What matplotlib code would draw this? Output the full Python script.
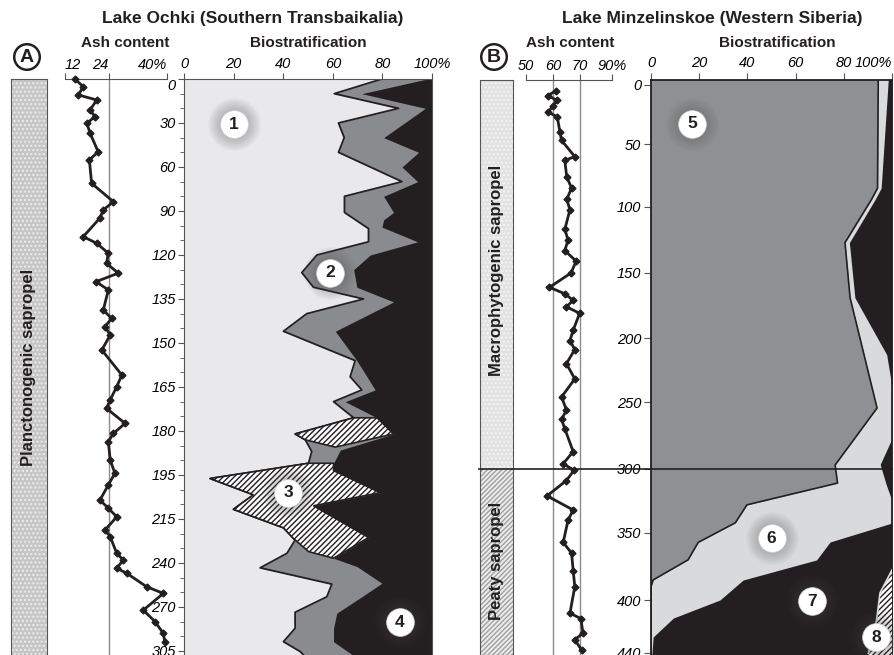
import numpy as np
import matplotlib.pyplot as plt
from matplotlib.lines import Line2D

plt.rcParams['font.family'] = ['Liberation Sans', 'DejaVu Sans']
plt.rcParams['hatch.linewidth'] = 1.0

# ---------------- Lake Ochki (A) ----------------
ochki_depth_ticks = [0, 30, 60, 90, 120, 135, 150, 165, 180, 195, 215, 240, 270, 305]
ochki_ash_ticks = [12, 24, 40]
ochki_ash_ref = [24]

ochki_ash_depth = [0, 5.2, 10.9, 14.3, 21.1, 25.7, 30.2, 37.0, 49.6, 55.2,
                   71.1, 83.7, 89.3, 94.8, 107.5, 112.0, 118.8, 122.8, 126.2, 129.1,
                   131.9, 138.8, 141.6, 144.4, 147.3, 152.4, 160.9, 164.9, 169.4, 172.3,
                   177.4, 180.8, 183.6, 189.9, 194.4, 199.5, 206.4, 210.1, 214.0, 221.3,
                   225.0, 234.5, 238.3, 243.6, 246.9, 256.2, 260.7, 272.5, 281.6, 291.0,
                   297.6]
ochki_ash = [14.7, 17.0, 15.7, 20.7, 18.9, 20.2, 18.0, 18.9, 21.1, 18.7,
             19.3, 25.3, 22.5, 21.6, 17.0, 20.7, 23.9, 23.4, 26.6, 20.5,
             23.9, 22.5, 24.8, 23.0, 24.4, 22.1, 27.6, 26.2, 24.4, 23.4,
             28.5, 25.3, 23.9, 24.4, 25.7, 23.9, 21.6, 23.9, 26.2, 23.0,
             24.4, 26.2, 28.0, 26.2, 28.9, 34.4, 39.0, 33.5, 36.7, 39.0,
             39.4]

# boundary between group 1 (light) and the rest
ochki_b1_depth = [0, 10, 20, 30, 40, 50, 70, 80, 91, 102, 111, 120, 126, 131, 135, 140, 146,
                  156, 161.5, 166, 170, 175.5, 181, 183, 187, 191, 196.6, 204, 210.6, 220,
                  227, 234.5, 243.3, 254.4, 263, 274.2, 286.9, 297.6, 305.4, 312]
ochki_b1_pct = [79.8, 60.6, 86.5, 62.3, 64.6, 62.3, 87.9, 64.7, 64.7, 74.4, 74.4, 53.6, 47.5,
                52.2, 72.4, 49.5, 40.1, 69.0, 67.0, 71.7, 60.3, 68.4, 44.8, 48.9, 51.5, 50.2,
                10.5, 28.0, 19.9, 40.1, 44.8, 41.5, 30.7, 59.6, 57.6, 44.8, 44.8, 40.1, 46.8, 50]
# boundary where group 4 (black) begins
ochki_b2_depth = [0, 10, 20, 40, 50, 60, 70, 80, 91, 96, 101, 111, 120, 125, 131, 136, 146,
                  156, 166, 170, 175.5, 181, 186.5, 191, 193.5, 203, 209, 225.5, 237.3,
                  242.4, 253.8, 263, 274.9, 286.9, 297.6, 306.8, 312]
ochki_b2_pct = [98.0, 71.7, 97.3, 80.5, 94.6, 87.9, 94.2, 80.5, 84.5, 80.5, 79.8, 94.2, 75.1,
                68.4, 69.7, 84.5, 61.0, 69.7, 77.1, 65.0, 77.8, 84.5, 63.0, 60.3, 60.3, 79.1,
                52.2, 74.4, 60.3, 69.7, 79.8, 71.7, 61.6, 60.3, 60.3, 67.0, 70]
# group 3 (hatched) blocks
ochki_h1_pct = [68.4, 77.8, 84.5, 61.0, 48.9, 44.8]
ochki_h1_depth = [175.5, 175.5, 181, 185.5, 183, 181]
ochki_h2_pct = [50.2, 60.3, 60.3, 79.1, 52.2, 74.4, 60.3, 50.2, 44.1, 40.1, 19.9, 28.0, 10.5]
ochki_h2_depth = [191, 191, 193.5, 203, 209, 225.5, 237.3, 233.5, 226, 220, 210.6, 204, 196.6]
ochki_groups = ['1', '2', '3', '4']
ochki_group_pct = [20, 59, 42, 87]
ochki_group_depth = [31, 126, 203, 282]

# ---------------- Lake Minzelinskoe (B) ----------------
minz_depth_ticks = [0, 50, 100, 150, 200, 250, 300, 350, 400, 440]
minz_tick_pos = [85, 144, 207, 273, 338, 402, 469, 533, 600, 653]
minz_ash_ticks = [50, 60, 70, 90]
minz_ash_ref = [60, 70]
minz_units = ['Macrophytogenic sapropel', 'Peaty sapropel']
minz_unit_top = [None, 300]
minz_unit_base = [300, None]

minz_ash_depth = [5, 9, 13, 18, 23, 27, 40, 47, 60, 63, 76, 85, 94, 102, 117, 125, 133, 141,
                  150, 161, 166, 171, 176, 181, 194, 202, 209, 220, 232, 246, 256, 263, 270,
                  287, 296, 301, 309, 321, 332, 340, 357, 365, 378, 390, 410, 414, 425, 430, 438]
minz_ash = [61.1, 58.0, 61.6, 59.9, 58.2, 61.6, 62.6, 63.2, 68.1, 64.4, 65.1, 66.9, 65.1, 66.3,
            64.4, 65.6, 64.4, 68.6, 66.7, 58.7, 64.4, 67.5, 65.0, 69.9, 67.5, 66.3, 68.1, 65.0,
            68.1, 63.2, 65.0, 63.2, 64.4, 67.5, 63.8, 67.8, 65.0, 57.8, 67.5, 65.6, 63.8, 66.9,
            67.5, 68.1, 66.3, 70.6, 71.9, 68.1, 71.2]

minz_b5_depth = [-6, 85, 94, 127, 169, 254.5, 297, 311, 328, 342, 357, 370, 385, 390, 450]
minz_b5_pct = [94.3, 94.0, 91.5, 80.5, 82.6, 93.8, 76.4, 77.4, 39.8, 35.0, 19.6, 15.4, 0.9, 0, 0]
minz_b6_depth = [-6, 85, 94, 127, 169, 213, 238.3]
minz_b6_pct = [98.5, 95.5, 93.0, 82.3, 84.6, 97.8, 100]
minz_sliver_pct = [100, 95.3, 97.8, 100]
minz_sliver_depth = [278.4, 297, 312.5, 324.2]
minz_b7_depth = [342.2, 356.7, 370.1, 385.1, 400, 413.6, 427.9, 450]
minz_b7_pct = [100, 74.3, 68.7, 38.2, 28.6, 9.3, 0.9, 0]
minz_h8_pct = [100, 95.0, 93.6, 90.2, 89.5, 100]
minz_h8_depth = [377.6, 394.8, 415.1, 440.2, 450, 450]
minz_groups = ['5', '6', '7', '8']
minz_group_pct = [17, 50, 67, 93.5]
minz_group_depth = [33, 354, 401, 428]

LIGHT = '#e9e9eb'
GREY = '#8a8b8e'
BLACK = '#231f20'
GREY5 = '#8f9093'
LIGHT6 = '#d9dadc'

W, H = 894, 655


def box(x0, x1, ytop, ybot=655):
    return [x0 / W, 1 - ybot / H, (x1 - x0) / W, (ybot - ytop) / H]


# depth axes of the original are not linear: the labels sit at fixed steps
a_d = np.r_[-60, ochki_depth_ticks, 410]
a_p = np.r_[-2, np.arange(len(ochki_depth_ticks)), 16]
fwd_a = lambda d: np.interp(d, a_d, a_p)
inv_a = lambda p: np.interp(p, a_p, a_d)
b_d = np.r_[-60, minz_depth_ticks, 520]
b_p = np.r_[minz_tick_pos[0] - 60 * 59 / 50, minz_tick_pos, 653 + 80 * 53 / 40]
fwd_b = lambda d: np.interp(d, b_d, b_p)
inv_b = lambda p: np.interp(p, b_p, b_d)
ash_v = [0, 50, 60, 70, 90, 200]
ash_p = [-5, 0, 1, 2, 3.19, 3.19 + 110 * 1.19 / 20]
fwd_ash = lambda v: np.interp(v, ash_v, ash_p)
inv_ash = lambda p: np.interp(p, ash_p, ash_v)

ylim_a = (inv_a((655 - 79) / 44), 0)
ylim_b = (inv_b(655), inv_b(80))

fig = plt.figure(figsize=(8.94, 6.55), dpi=100)


def badge(ax, x, y, s):
    # soft grey glow behind the white disc
    for ms in np.linspace(38, 21, 10):
        ax.plot(x, y, 'o', ms=ms, color='#555555', alpha=0.035, mec='none', zorder=6, clip_on=False)
    ax.plot(x, y, 'o', ms=20, mfc='white', mec='#cfcfcf', mew=0.5, zorder=7, clip_on=False)
    ax.text(x, y, s, ha='center', va='center', fontsize=12.5, fontweight='bold',
            color=BLACK, zorder=8)


def depth_axis(ax, fwd, inv, ylim):
    ax.set_yscale('function', functions=(fwd, inv))
    ax.set_ylim(*ylim)


def ash_axis(ax, ticks, labels, ref):
    ax.set_facecolor('none')
    for s in ['bottom', 'left', 'right']:
        ax.spines[s].set_visible(False)
    ax.spines['top'].set_color('#555555')
    ax.xaxis.tick_top()
    ax.set_xticks(ticks, labels, fontstyle='italic', fontsize=10.5)
    ax.tick_params(axis='x', direction='out', length=4, color='#555555', pad=1)
    ax.set_yticks([])
    ax.set_yticks([], minor=True)
    for r in ref:
        ax.axvline(r, color='#8c8c8c', lw=1, zorder=1)


def litho(ax, face, hatch, hcol, top, base):
    ax.fill_betweenx([top, base], 0, 1, facecolor=face, lw=0)
    ax.fill_betweenx([top, base], 0, 1, facecolor='none', edgecolor=hcol, hatch=hatch, lw=0)


# ---- A: lithology column
ax = fig.add_axes(box(11, 47, 79))
depth_axis(ax, fwd_a, inv_a, ylim_a)
ax.set_xlim(0, 1)
litho(ax, '#c6c6c6', '....', '#ededed', ylim_a[1], ylim_a[0])
ax.set_xticks([]); ax.set_yticks([]); ax.set_yticks([], minor=True)
for s in ax.spines.values():
    s.set_color('#555555')
ax.text(0.5, 0.5, 'Planctonogenic sapropel', rotation=90, ha='center', va='center',
        fontsize=12, fontweight='bold', color=BLACK, transform=ax.transAxes)

# ---- A: ash content
ax = fig.add_axes(box(65, 167, 79))
depth_axis(ax, fwd_a, inv_a, ylim_a)
ax.set_xlim(12, 40)
ash_axis(ax, ochki_ash_ticks, ['12', '24', '40%'], ochki_ash_ref)
ax.get_xticklabels()[0].set_ha('left')
ax.get_xticklabels()[1].set_ha('right')
ax.get_xticklabels()[2].set_ha('right')
ax.plot(ochki_ash, ochki_ash_depth, color=BLACK, lw=2, marker='D', ms=3.5, clip_on=False, zorder=3)

# ---- A: biostratification
ax = fig.add_axes(box(184, 432, 79))
depth_axis(ax, fwd_a, inv_a, ylim_a)
ax.set_xlim(0, 100)
ax.set_facecolor(LIGHT)
ax.fill_betweenx(ochki_b1_depth, ochki_b1_pct, 100, color=GREY, lw=0)
ax.fill_betweenx(ochki_b2_depth, ochki_b2_pct, 100, color=BLACK, lw=0)
ax.plot(ochki_b1_pct, ochki_b1_depth, color=BLACK, lw=1.3)
for hp, hd in [(ochki_h1_pct, ochki_h1_depth), (ochki_h2_pct, ochki_h2_depth)]:
    ax.fill(hp, hd, facecolor='white', edgecolor=BLACK, hatch='//////', lw=1.2, zorder=3)
for s, x, y in zip(ochki_groups, ochki_group_pct, ochki_group_depth):
    badge(ax, x, y, s)
ax.xaxis.tick_top()
ax.set_xticks([0, 20, 40, 60, 80, 100], ['0', '20', '40', '60', '80', '100%'],
              fontstyle='italic', fontsize=10.5)
ax.set_yticks(ochki_depth_ticks, [str(d) for d in ochki_depth_ticks],
              fontstyle='italic', fontsize=10.5)
minor_a = inv_a(np.array([i + f for i in range(13) for f in (1 / 3, 2 / 3)]))
ax.set_yticks(minor_a, minor=True)
ax.tick_params(axis='both', direction='out', length=4, color='#555555', pad=2)
ax.tick_params(axis='y', which='minor', direction='out', length=3, color='#555555')
ax.get_yticklabels()[0].set_va('top')
for s in ax.spines.values():
    s.set_color('#555555')
ax.spines['bottom'].set_visible(False)

# ---- B: lithology column
ax = fig.add_axes(box(480, 513, 80))
depth_axis(ax, fwd_b, inv_b, ylim_b)
ax.set_xlim(0, 1)
tops = [ylim_b[1] if t is None else t for t in minz_unit_top]
bases = [ylim_b[0] if b is None else b for b in minz_unit_base]
litho(ax, '#e2e2e2', '....', '#f6f6f6', tops[0], bases[0])
litho(ax, '#ececec', '///////', '#a0a0a0', tops[1], bases[1])
for name, t, b in zip(minz_units, tops, bases):
    ax.text(0.5, (t + b) / 2, name, rotation=90, ha='center', va='center',
            fontsize=12, fontweight='bold', color=BLACK)
ax.set_xticks([]); ax.set_yticks([]); ax.set_yticks([], minor=True)
for s in ax.spines.values():
    s.set_color('#555555')

# ---- B: ash content
ax = fig.add_axes(box(526, 612, 80))
depth_axis(ax, fwd_b, inv_b, ylim_b)
ax.set_xscale('function', functions=(fwd_ash, inv_ash))
ax.set_xlim(50, 90)
ash_axis(ax, minz_ash_ticks, ['50', '60', '70', '90%'], minz_ash_ref)
ax.plot(minz_ash, minz_ash_depth, color=BLACK, lw=2, marker='D', ms=3.5, clip_on=False, zorder=3)

# ---- B: biostratification
ax = fig.add_axes(box(651, 892, 80))
depth_axis(ax, fwd_b, inv_b, ylim_b)
ax.set_xlim(0, 100)
ax.set_facecolor(GREY5)
ax.fill_betweenx(minz_b5_depth, minz_b5_pct, 100, color=LIGHT6, lw=0)
ax.fill_betweenx(minz_b6_depth, minz_b6_pct, 100, color=BLACK, lw=0)
ax.fill(minz_sliver_pct, minz_sliver_depth, color=BLACK, lw=0)
ax.fill_betweenx(minz_b7_depth, minz_b7_pct, 100, color=BLACK, lw=0)
ax.fill(minz_h8_pct, minz_h8_depth, facecolor='white', edgecolor=BLACK, hatch='//////', lw=0, zorder=3)
ax.plot(minz_h8_pct[:4], minz_h8_depth[:4], color=LIGHT6, lw=1.2, zorder=3)
ax.plot(minz_b5_pct, minz_b5_depth, color=BLACK, lw=1.2)
for s, x, y in zip(minz_groups, minz_group_pct, minz_group_depth):
    badge(ax, x, y, s)
ax.xaxis.tick_top()
ax.set_xticks([0, 20, 40, 60, 80, 100], ['0', '20', '40', '60', '80', '100%'],
              fontstyle='italic', fontsize=10.5)
ax.get_xticklabels()[-1].set_ha('right')
ax.set_yticks(minz_depth_ticks, [str(d) for d in minz_depth_ticks],
              fontstyle='italic', fontsize=10.5)
ax.set_yticks([], minor=True)
ax.tick_params(axis='both', direction='out', length=5, color='#555555', pad=2)
for s in ax.spines.values():
    s.set_color(BLACK)
    s.set_linewidth(1.3)
ax.spines['bottom'].set_visible(False)

# boundary between the two sapropel units, across the whole B panel
y300 = fig.transFigure.inverted().transform(ax.transData.transform((0, minz_unit_base[0])))[1]
fig.add_artist(Line2D([479 / W, 892 / W], [y300, y300], color=BLACK, lw=1.2))

# ---- headings
fig.text(253 / W, 1 - 18 / H, 'Lake Ochki (Southern Transbaikalia)', ha='center', va='center',
         fontsize=12.5, fontweight='bold', color=BLACK)
fig.text(712 / W, 1 - 18 / H, 'Lake Minzelinskoe (Western Siberia)', ha='center', va='center',
         fontsize=12.5, fontweight='bold', color=BLACK)
for x, s in [(125, 'Ash content'), (308, 'Biostratification'),
             (570, 'Ash content'), (777, 'Biostratification')]:
    fig.text(x / W, 1 - 43 / H, s, ha='center', va='center', fontsize=11,
             fontweight='bold', color=BLACK)
for x, s in [(27, 'A'), (494, 'B')]:
    fig.text(x / W, 1 - 57 / H, s, ha='center', va='center', fontsize=14, fontweight='bold',
             color=BLACK, bbox=dict(boxstyle='circle,pad=0.22', fc='white', ec=BLACK, lw=1.8))

fig.savefig('out.png', dpi=100)
